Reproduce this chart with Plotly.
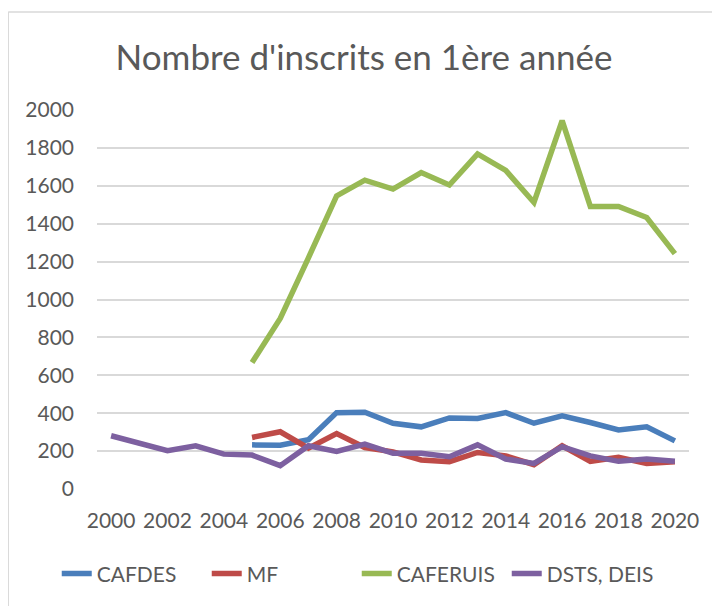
import plotly.graph_objects as go

# données
annees = [str(a) for a in range(2000, 2021)]

cafdes = [None, None, None, None, None,
          233, 231, 260, 403, 405, 347, 328, 375, 372, 403, 347, 386, 351, 312, 328, 254]
mf = [None, None, None, None, None,
      272, 302, 216, 293, 219, 196, 153, 144, 193, 175, 128, 228, 146, 167, 135, 144]
caferuis = [None, None, None, None, None,
            667, 900, 1220, 1547, 1630, 1583, 1670, 1604, 1768, 1681, 1512, 1944, 1491, 1491, 1433, 1242]
dsts_deis = [281, 245, 202, 228, 184, 179, 123, 228, 198, 237, 188, 189, 170, 233, 158, 135, 223, 175, 146, 158, 146]

series = [
    ('CAFDES', cafdes, '#4a7ebb'),
    ('MF', mf, '#be4b48'),
    ('CAFERUIS', caferuis, '#98b954'),
    ('DSTS, DEIS', dsts_deis, '#7d60a0'),
]

police = 'Lato'
gris = '#595959'

# la page ajoute une marge de 8 px autour de la figure
W, H = 712, 598

fig = go.Figure()
for nom, valeurs, couleur in series:
    fig.add_trace(go.Scatter(x=annees, y=valeurs, name=nom, mode='lines',
                             line=dict(color=couleur, width=5.5)))

fig.update_layout(
    width=W, height=H,
    margin=dict(l=89, r=31, t=102, b=117, autoexpand=False),
    paper_bgcolor='white', plot_bgcolor='white',
    font=dict(family=police, size=21, color=gris),
    title=dict(text="Nombre d'inscrits en 1ère année", x=0.5, xanchor='center',
               y=1 - 50 / H, yanchor='middle', yref='container',
               font=dict(family=police, size=35, color=gris)),
    legend=dict(orientation='h', x=-0.068, xanchor='left', y=-0.224, yanchor='middle',
                font=dict(size=21, color=gris), itemwidth=30, entrywidth=105,
                entrywidthmode='pixels', traceorder='normal'),
    showlegend=True,
)

fig.update_xaxes(type='category', range=[-0.5, 20.5], tickvals=annees[::2], ticktext=annees[::2],
                 showgrid=False, showline=False, ticks='', tickangle=0, ticklabelstandoff=17,
                 tickfont=dict(size=21, color=gris))
fig.update_yaxes(range=[0, 2000], dtick=200, showgrid=True, gridcolor='#d9d9d9', gridwidth=1.5,
                 zeroline=False, showline=False, ticks='', ticklabelstandoff=22,
                 tickfont=dict(size=21, color=gris))

# cadre du graphique (bord gauche et haut)
fig.add_shape(type='line', xref='paper', yref='paper', x0=-0.150, x1=1.1, y0=1.2586, y1=1.2586,
              line=dict(color='#d9d9d9', width=1.5))
fig.add_shape(type='line', xref='paper', yref='paper', x0=-0.150, x1=-0.150, y0=1.2586, y1=-0.35,
              line=dict(color='#d9d9d9', width=1.5))

fig.write_html('out.html')
